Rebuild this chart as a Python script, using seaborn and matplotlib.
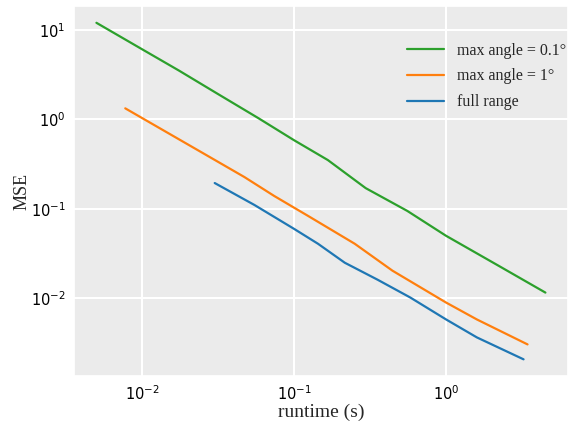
import pandas as pd
import matplotlib
matplotlib.use("Agg")
import matplotlib.pyplot as plt
import seaborn as sns

# runtime (s) and MSE, one pair of arrays per series
fine_runtime = [0.00502, 0.00959, 0.0175, 0.0319, 0.0583, 0.100, 0.167, 0.296, 0.556, 1.0, 2.15, 4.50]
fine_mse = [12.0, 6.34, 3.51, 1.90, 1.03, 0.584, 0.350, 0.170, 0.0945, 0.0498, 0.0237, 0.01154]

coarse_runtime = [0.00777, 0.01418, 0.02588, 0.0472, 0.0741, 0.1236, 0.2507, 0.4438, 1.0, 1.594, 3.433]
coarse_mse = [1.326, 0.735, 0.4076, 0.226, 0.1389, 0.0832, 0.0406, 0.0203, 0.00893, 0.00578, 0.00304]

full_runtime = [0.0301, 0.0549, 0.100, 0.1437, 0.2157, 0.354, 0.582, 1.0, 1.594, 3.232]
full_mse = [0.1938, 0.1102, 0.0596, 0.0406, 0.0249, 0.0161, 0.01016, 0.00578, 0.00364, 0.00207]

labels = ["max angle = 0.1°", "max angle = 1°", "full range"]
colors = ["#2ca02c", "#ff7f0e", "#1f77b4"]

df = pd.concat([
    pd.DataFrame({"runtime": fine_runtime, "mse": fine_mse, "series": labels[0]}),
    pd.DataFrame({"runtime": coarse_runtime, "mse": coarse_mse, "series": labels[1]}),
    pd.DataFrame({"runtime": full_runtime, "mse": full_mse, "series": labels[2]}),
])

sns.set_theme(style="darkgrid", rc={
    "axes.facecolor": "#ebebeb",
    "grid.color": "white",
    "grid.linewidth": 1.5,
})

fig = plt.figure(figsize=(5.69, 4.26), dpi=100)
ax = fig.add_axes([0.130, 0.117, 0.868, 0.869])

sns.lineplot(data=df, x="runtime", y="mse", hue="series", hue_order=labels,
             palette=colors, linewidth=1.6, ax=ax, sort=False, estimator=None)

ax.set_xscale("log")
ax.set_yscale("log")
ax.grid(True, which="major")
ax.grid(False, which="minor")
ax.tick_params(axis="both", which="both", length=0, labelsize=10.5, colors="black", pad=6)
for lab in ax.get_xticklabels() + ax.get_yticklabels():
    lab.set_family("DejaVu Sans")

serif = ["Liberation Serif", "DejaVu Serif"]
ax.set_xlabel("runtime (s)", fontsize=14, family=serif, labelpad=0)
ax.set_ylabel("MSE", fontsize=13, family=serif, labelpad=0)

leg = ax.legend(loc="upper right", frameon=False, prop={"family": serif, "size": 11.5},
                handlelength=2.3, labelspacing=0.62, handletextpad=0.8,
                bbox_to_anchor=(1.025, 0.94))

fig.savefig("out.png", dpi=100)
